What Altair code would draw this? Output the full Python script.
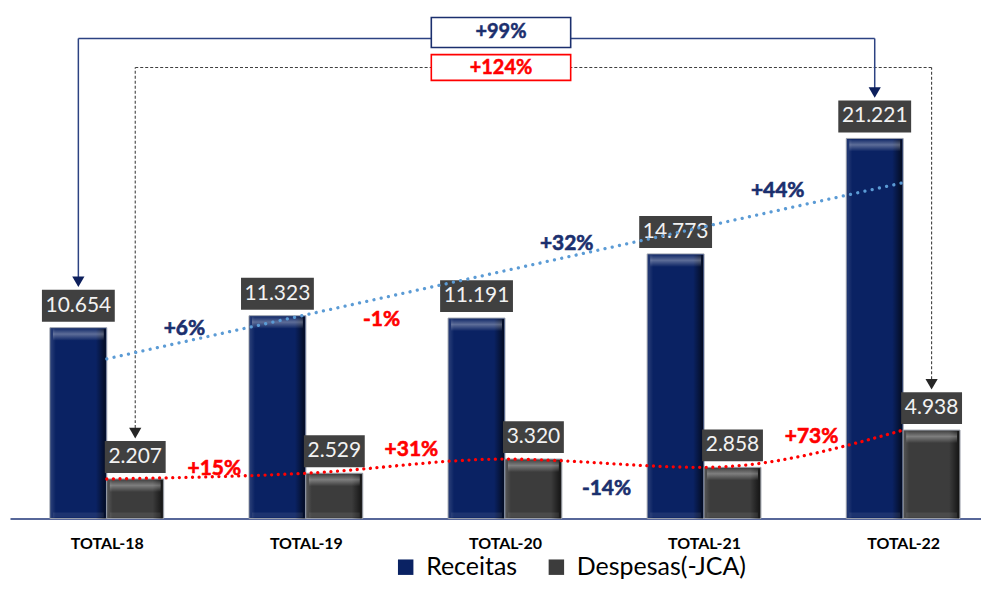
import json
import pandas as pd
import altair as alt

# ---------------- data ----------------
categories = ["TOTAL-18", "TOTAL-19", "TOTAL-20", "TOTAL-21", "TOTAL-22"]
receitas = [10.654, 11.323, 11.191, 14.773, 21.221]
despesas = [2.207, 2.529, 3.320, 2.858, 4.938]
series_names = ["Receitas", "Despesas(-JCA)"]

# growth annotations (text, position in category/value units, colour)
pct_text = ["+6%", "-1%", "+32%", "+44%", "+15%", "+31%", "-14%", "+73%"]
pct_x = [0.39, 1.38, 2.31, 3.37, 0.54, 1.53, 2.51, 3.54]
pct_y = [10.6, 11.1, 15.3, 18.3, 2.75, 3.85, 1.65, 4.55]
pct_color = ["#1b2f6e", "#ff0000", "#1b2f6e", "#1b2f6e",
             "#ff0000", "#ff0000", "#1b2f6e", "#ff0000"]

total_text = ["+99%", "+124%"]
total_color = ["#1b2f6e", "#ff0000"]

# ---------------- layout / style ----------------
NAVY = "#0a2263"
GRAY = "#3c3c3c"
BW = 0.2857                      # bar width (category units)
X_DOM = [-0.4862, 4.391]
Y_DOM = [0, 28.47]
LINE_Y = [26.80, 25.18]          # connector levels (blue, dashed)
BOX_X = [1.63, 2.33]
BOX_Y = [[26.30, 27.97], [24.46, 25.90]]
FONT = "Lato"

n = len(categories)
idx = list(range(n))

long = pd.DataFrame({
    "i": idx * 2,
    "serie": [series_names[0]] * n + [series_names[1]] * n,
    "v": receitas + despesas,
    "x0": [i - BW for i in idx] + [i for i in idx],
    "x1": [i for i in idx] + [i + BW for i in idx],
})
long["xc"] = (long["x0"] + long["x1"]) / 2
long["lab"] = long["v"].map(lambda v: f"{v:.3f}")

xs = alt.Scale(domain=X_DOM, nice=False, zero=False)
ys = alt.Scale(domain=Y_DOM, nice=False, zero=True)
x_axis = alt.Axis(values=idx, labelExpr=f"{json.dumps(categories)}[datum.value]",
                  title=None, grid=False, ticks=False, domainColor="#1f3577",
                  domainWidth=1.5, labelFont=FONT, labelFontWeight="bold",
                  labelFontSize=16, labelColor="#000000", labelPadding=17,
                  labelFlush=False, labelOverlap=False)


def X(f):
    return alt.X(f, type="quantitative", scale=xs, axis=x_axis)


def Y(f):
    return alt.Y(f, type="quantitative", scale=ys, axis=None)


base = alt.Chart(long)

bars = base.mark_bar(stroke="#9ea3ad", strokeWidth=1).encode(
    x=X("x0"), x2="x1", y=Y("v"), y2=alt.datum(0),
    color=alt.Color("serie:N",
                    scale=alt.Scale(domain=series_names, range=[NAVY, GRAY]),
                    legend=alt.Legend(orient="none", legendX=384, legendY=547,
                                      direction="horizontal", title=None,
                                      symbolType="square", symbolSize=240,
                                      symbolStrokeWidth=0, labelFont=FONT,
                                      labelFontSize=25, labelColor="#000000",
                                      labelLimit=0, labelOffset=8,
                                      columnPadding=26, padding=0)),
)

shade_right = base.mark_rect(
    xOffset=-11, x2Offset=-1, yOffset=1,
    color=alt.Gradient(gradient="linear",
                       stops=[alt.GradientStop(color="rgba(0,0,0,0)", offset=0),
                              alt.GradientStop(color="rgba(0,0,0,0.65)", offset=1)],
                       x1=0, x2=1, y1=0, y2=0),
).encode(x=X("x1"), x2="x1", y=Y("v"), y2=alt.datum(0))

shade_left = base.mark_rect(
    xOffset=1, x2Offset=6, yOffset=1,
    color=alt.Gradient(gradient="linear",
                       stops=[alt.GradientStop(color="rgba(255,255,255,0.12)", offset=0),
                              alt.GradientStop(color="rgba(255,255,255,0)", offset=1)],
                       x1=0, x2=1, y1=0, y2=0),
).encode(x=X("x0"), x2="x0", y=Y("v"), y2=alt.datum(0))

top_hl = base.mark_rect(
    xOffset=3, x2Offset=-3, yOffset=1, y2Offset=13,
    color=alt.Gradient(gradient="linear",
                       stops=[alt.GradientStop(color="rgba(255,255,255,0.05)", offset=0),
                              alt.GradientStop(color="rgba(255,255,255,0.34)", offset=0.45),
                              alt.GradientStop(color="rgba(255,255,255,0)", offset=1)],
                       x1=0, x2=0, y1=0, y2=1),
).encode(x=X("x0"), x2="x1", y=Y("v"), y2="v")

bottom_hl = base.mark_rect(
    xOffset=3, x2Offset=-3, yOffset=-6, y2Offset=-1,
    color="rgba(255,255,255,0.08)",
).encode(x=X("x0"), x2="x1", y=alt.Y(datum=0, scale=ys, axis=None), y2=alt.datum(0))

# connectors -------------------------------------------------------
conn_v_blue = alt.Chart(pd.DataFrame({
    "x": [0 - BW / 2, n - 1 - BW / 2],
    "y": [receitas[0], receitas[-1]],
    "y2": [LINE_Y[0], LINE_Y[0]],
})).mark_rule(yOffset=-46, color="#2c4282", strokeWidth=1.5).encode(
    x=X("x"), y=Y("y"), y2="y2")

conn_v_dash = alt.Chart(pd.DataFrame({
    "x": [0 + BW / 2, n - 1 + BW / 2],
    "y": [despesas[0], despesas[-1]],
    "y2": [LINE_Y[1], LINE_Y[1]],
})).mark_rule(yOffset=-46, color="#404040", strokeWidth=1.1,
              strokeDash=[3, 2]).encode(x=X("x"), y=Y("y"), y2="y2")

conn_h_blue = alt.Chart(pd.DataFrame({
    "x": [0 - BW / 2], "x2": [n - 1 - BW / 2], "y": [LINE_Y[0]],
})).mark_rule(color="#2c4282", strokeWidth=1.5).encode(x=X("x"), x2="x2", y=Y("y"))

conn_h_dash = alt.Chart(pd.DataFrame({
    "x": [0 + BW / 2], "x2": [n - 1 + BW / 2], "y": [LINE_Y[1]],
})).mark_rule(color="#404040", strokeWidth=1.1, strokeDash=[3, 2]).encode(
    x=X("x"), x2="x2", y=Y("y"))

arrows = alt.Chart(pd.DataFrame({
    "x": [0 - BW / 2, n - 1 - BW / 2, 0 + BW / 2, n - 1 + BW / 2],
    "y": [receitas[0], receitas[-1], despesas[0], despesas[-1]],
    "c": ["#0d1f5c", "#0d1f5c", "#262626", "#262626"],
})).mark_point(shape="triangle-down", filled=True, opacity=1, size=150,
               yOffset=-46).encode(x=X("x"), y=Y("y"),
                                   color=alt.Color("c:N", scale=None))

tot_df = pd.DataFrame({
    "x": [BOX_X[0]] * 2, "x2": [BOX_X[1]] * 2,
    "y": [BOX_Y[0][0], BOX_Y[1][0]], "y2": [BOX_Y[0][1], BOX_Y[1][1]],
    "t": total_text, "c": total_color,
})
tot_df["xm"] = (tot_df["x"] + tot_df["x2"]) / 2
tot_df["ym"] = (tot_df["y"] + tot_df["y2"]) / 2
tot_boxes = alt.Chart(tot_df).mark_rect(fill="white", strokeWidth=1.6).encode(
    x=X("x"), x2="x2", y=Y("y"), y2="y2",
    stroke=alt.Stroke("c:N", scale=None))
tot_text = alt.Chart(tot_df).mark_text(font=FONT, fontWeight="bold", fontSize=20,
                                       baseline="middle", strokeWidth=0.5).encode(
    x=X("xm"), y=Y("ym"), text="t:N", color=alt.Color("c:N", scale=None),
    stroke=alt.Stroke("c:N", scale=None))

# value label boxes ----------------------------------------------------
rec_box = base.transform_filter(alt.datum.serie == series_names[0]).mark_point(
    shape="M-1,-0.438L1,-0.438L1,0.438L-1,0.438Z", size=5329, filled=True,
    opacity=1, color="#404040", yOffset=-22).encode(x=X("xc"), y=Y("v"))
desp_box = base.transform_filter(alt.datum.serie == series_names[1]).mark_point(
    shape="M-1,-0.525L1,-0.525L1,0.525L-1,0.525Z", size=3721, filled=True,
    opacity=1, color="#404040", yOffset=-22).encode(x=X("xc"), y=Y("v"))
val_text = base.mark_text(font=FONT, fontSize=21, color="#f2f2f2",
                          baseline="middle", dy=-22).encode(
    x=X("xc"), y=Y("v"), text="lab:N")

# trend lines -------------------------------------------------------------
trend_rec = alt.Chart(pd.DataFrame({"i": idx, "rec": receitas})).transform_regression(
    "i", "rec", extent=[0, n - 1]).mark_line(
    color="#5b9bd5", strokeWidth=3.3, strokeDash=[0.01, 7.4],
    strokeCap="round").encode(x=X("i"), y=Y("rec"))

trend_desp = alt.Chart(pd.DataFrame({"i": idx, "desp": despesas})).mark_line(
    interpolate="monotone", color="#ff0000", strokeWidth=3.3,
    strokeDash=[0.01, 6.6], strokeCap="round").encode(x=X("i"), y=Y("desp"))

pct = alt.Chart(pd.DataFrame({"x": pct_x, "y": pct_y, "t": pct_text,
                              "c": pct_color})).mark_text(
    font=FONT, fontWeight="bold", fontSize=21, baseline="middle",
    strokeWidth=0.6).encode(
    x=X("x"), y=Y("y"), text="t:N", color=alt.Color("c:N", scale=None),
    stroke=alt.Stroke("c:N", scale=None))

chart = alt.layer(
    bars, shade_left, shade_right, top_hl, bottom_hl,
    conn_h_blue, conn_h_dash, conn_v_blue, conn_v_dash,
    tot_boxes, tot_text,
    rec_box, desp_box, val_text,
    trend_rec, trend_desp, pct, arrows,
).properties(
    width=973, height=511,
    padding={"left": 2, "top": 0, "right": 0, "bottom": 0},
).configure_view(stroke=None)

chart.save("out.html", embed_options={"renderer": "svg", "actions": False})
